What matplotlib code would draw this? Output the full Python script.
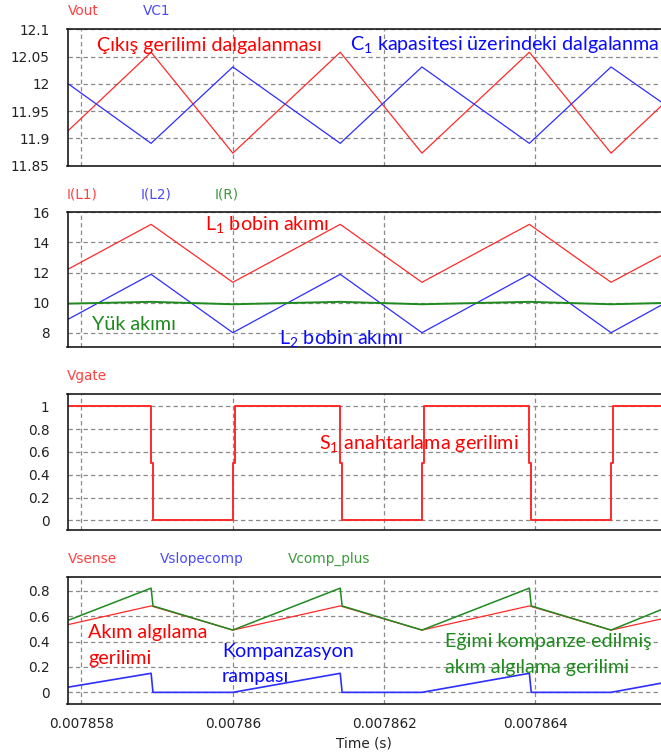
"""Converter scope traces: output ripple, inductor currents, gate drive and current sense."""

import matplotlib

matplotlib.use("Agg")  # headless

import matplotlib.pyplot as plt  # noqa: E402
from matplotlib.ticker import FixedLocator, FuncFormatter  # noqa: E402

# --------------------------------------------------------------------------- #
# Data (time in seconds)
# --------------------------------------------------------------------------- #
T_START = 7.857815e-3
T_END = 7.86566e-3
time_ticks = [0.007858, 0.00786, 0.007862, 0.007864]

# triangle vertices: switch-off / switch-on instants
tri_t = [T_START, 7.85892e-3, 7.86000e-3, 7.86142e-3, 7.86250e-3, 7.86392e-3, 7.86500e-3, T_END]
vout = [11.913, 12.058, 11.873, 12.058, 11.873, 12.058, 11.873, 11.959]
vc1 = [12.001, 11.891, 12.031, 11.891, 12.031, 11.891, 12.031, 11.967]
i_l1 = [12.2, 15.2, 11.35, 15.2, 11.35, 15.2, 11.35, 13.12]
i_l2 = [8.87, 11.88, 8.0, 11.88, 8.0, 11.88, 8.0, 9.82]
i_r = [9.93, 10.05, 9.89, 10.05, 9.89, 10.05, 9.89, 9.97]
vsense = [0.532, 0.68, 0.49, 0.68, 0.49, 0.68, 0.49, 0.577]

# gate drive (drawn as steps-post, with the short 0.5 V shelf at each edge)
gate_t = [T_START,
          7.858920e-3, 7.858945e-3, 7.860000e-3, 7.860025e-3,
          7.861420e-3, 7.861445e-3, 7.862500e-3, 7.862525e-3,
          7.863920e-3, 7.863945e-3, 7.865000e-3, 7.865025e-3,
          T_END]
vgate = [1, 0.5, 0, 0.5, 1, 0.5, 0, 0.5, 1, 0.5, 0, 0.5, 1, 1]

# slope compensation ramp and the compensated sense signal
ramp_t = [T_START,
          7.85892e-3, 7.858945e-3, 7.86000e-3,
          7.86142e-3, 7.861445e-3, 7.86250e-3,
          7.86392e-3, 7.863945e-3, 7.86500e-3,
          T_END]
vslopecomp = [0.04, 0.15, 0.0, 0.0, 0.15, 0.0, 0.0, 0.15, 0.0, 0.0, 0.072]
vcomp_plus = [0.565, 0.82, 0.68, 0.49, 0.82, 0.68, 0.49, 0.82, 0.68, 0.49, 0.65]

# --------------------------------------------------------------------------- #
# Styling
# --------------------------------------------------------------------------- #
W, H = 661, 754
RED = "#ff2a2a"
BLUE = "#2e2eff"
GREEN = "#1f8a1f"
NOTE_RED = "#ff0000"
NOTE_BLUE = "#0a0aff"
NOTE_GREEN = "#1e8a1e"
TICK_FONT = "DejaVu Sans"
TICK_SIZE = 9.8
NOTE_FONT = "Lato"
NOTE_SIZE = 14.2

plt.rcParams["font.family"] = [TICK_FONT]


def _axes(fig, top, bottom):
    """Axes box from pixel rows; the plot runs off the right edge of the picture."""
    left = 67.5
    return fig.add_axes([left / W, 1 - bottom / H, (W - left) / W, (bottom - top) / H])


def _style(ax, ylim, yticks, xlabels=False):
    ax.set_xlim(T_START, T_END)
    ax.set_ylim(*ylim)
    fmt = FuncFormatter(lambda v, _: f"{v:g}")
    ax.xaxis.set_major_locator(FixedLocator(time_ticks))
    ax.yaxis.set_major_locator(FixedLocator(yticks))
    ax.xaxis.set_major_formatter(fmt)
    ax.yaxis.set_major_formatter(fmt)
    ax.tick_params(length=0, labelsize=TICK_SIZE, colors="#222222")
    ax.tick_params(axis="y", pad=13)
    ax.tick_params(axis="x", pad=9, labelbottom=xlabels)
    ax.grid(True, color="#8a8a8a", linestyle=(0, (3.5, 2.5)), linewidth=0.9)
    ax.set_axisbelow(True)
    ax.spines["right"].set_visible(False)
    for side in ("left", "bottom", "top"):
        ax.spines[side].set_linewidth(1.2)
        ax.spines[side].set_color("#1a1a1a")


def _label(fig, x, y, s, color):
    """Trace name above a panel (x = left edge, y = text centre, pixels)."""
    fig.text(x / W, 1 - y / H, s, color=color, fontsize=TICK_SIZE, family=TICK_FONT,
             ha="left", va="center")


def _note(fig, x, y, s, color):
    """Turkish annotation (x = left edge, y = baseline, pixels)."""
    fig.text(x / W, 1 - y / H, s, color=color, fontsize=NOTE_SIZE, family=NOTE_FONT,
             ha="left", va="baseline")


fig = plt.figure(figsize=(W / 100, H / 100), dpi=100)

# panel 1: output voltage and C1 ripple
ax1 = _axes(fig, 29.3, 165.7)
ax1.plot(tri_t, vout, color=RED, lw=0.9)
ax1.plot(tri_t, vc1, color=BLUE, lw=0.9)
_style(ax1, (11.85, 12.1), [11.85, 11.9, 11.95, 12, 12.05, 12.1])
_label(fig, 68, 11, "Vout", "#ff4040")
_label(fig, 143, 11, "VC1", "#4a4aff")
_note(fig, 97, 51, "Çıkış gerilimi dalgalanması", NOTE_RED)
_note(fig, 350, 51, r"C$_\mathregular{1}$ kapasitesi üzerindeki dalgalanma", NOTE_BLUE)

# panel 2: inductor and load currents
ax2 = _axes(fig, 212.3, 347.3)
ax2.plot(tri_t, i_l1, color=RED, lw=0.9)
ax2.plot(tri_t, i_l2, color=BLUE, lw=0.9)
ax2.plot(tri_t, i_r, color=GREEN, lw=1.4)
_style(ax2, (7.03, 16), [8, 10, 12, 14, 16])
_label(fig, 67, 194, "I(L1)", "#ff4040")
_label(fig, 141, 194, "I(L2)", "#4a4aff")
_label(fig, 215, 194, "I(R)", "#3a9a3a")
_note(fig, 205, 231, r"L$_\mathregular{1}$ bobin akımı", NOTE_RED)
_note(fig, 92, 330, "Yük akımı", NOTE_GREEN)
_note(fig, 279, 345, r"L$_\mathregular{2}$ bobin akımı", NOTE_BLUE)

# panel 3: gate drive
ax3 = _axes(fig, 393.8, 530.0)
ax3.plot(gate_t, vgate, color=RED, lw=1.4, drawstyle="steps-post")
_style(ax3, (-0.085, 1.11), [0, 0.2, 0.4, 0.6, 0.8, 1])
_label(fig, 67, 376, "Vgate", "#ff4040")
_note(fig, 319, 450, r"S$_\mathregular{1}$ anahtarlama gerilimi", NOTE_RED)

# panel 4: current sense with slope compensation
ax4 = _axes(fig, 576.7, 704.3)
ax4.plot(tri_t, vsense, color=RED, lw=0.9)
ax4.plot(ramp_t, vslopecomp, color=BLUE, lw=1.2)
ax4.plot(ramp_t, vcomp_plus, color=GREEN, lw=1.1)
_style(ax4, (-0.094, 0.91), [0, 0.2, 0.4, 0.6, 0.8], xlabels=True)
ax4.set_xlabel("Time (s)", fontsize=TICK_SIZE, color="#222222", labelpad=4)
_label(fig, 68, 559, "Vsense", "#ff4040")
_label(fig, 160, 559, "Vslopecomp", "#4a4aff")
_label(fig, 288, 559, "Vcomp_plus", "#3a9a3a")
_note(fig, 88, 638, "Akım algılama", NOTE_RED)
_note(fig, 88, 664, "gerilimi", NOTE_RED)
_note(fig, 222, 657, "Kompanzasyon", NOTE_BLUE)
_note(fig, 222, 682, "rampası", NOTE_BLUE)
_note(fig, 445, 647, "Eğimi kompanze edilmiş", NOTE_GREEN)
_note(fig, 445, 673, "akım algılama gerilimi", NOTE_GREEN)

fig.savefig("out.png", dpi=100)
